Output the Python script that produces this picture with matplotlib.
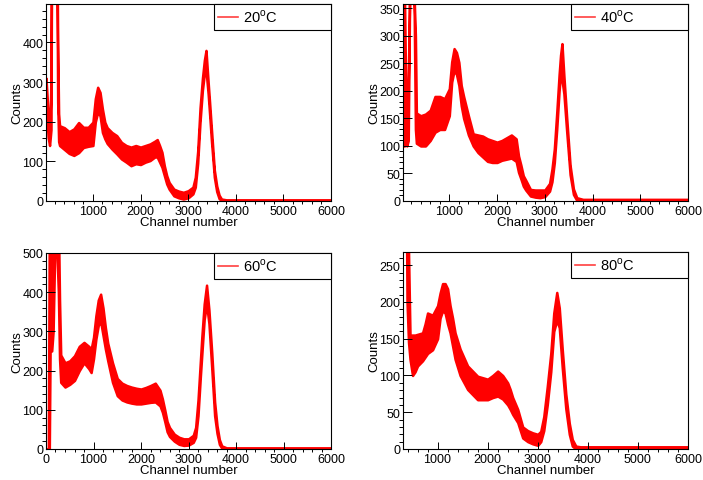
import numpy as np
import matplotlib.pyplot as plt
from matplotlib.ticker import MultipleLocator
from matplotlib.patches import Rectangle

# 字体：Helvetica 风格
plt.rcParams['font.family'] = ['Liberation Sans', 'DejaVu Sans']
plt.rcParams['mathtext.fontset'] = 'custom'
plt.rcParams['mathtext.rm'] = 'Liberation Sans'

# ---- 数据（读自原图，下/上包络） ----
# 20°C
ch20 = [15, 60, 90, 120, 140, 230, 260, 280, 300, 400, 500, 600, 700, 800, 900, 1000,
        1050, 1100, 1150, 1200, 1250, 1300, 1400, 1500, 1600, 1700, 1800, 1900, 2000,
        2100, 2200, 2300, 2350, 2400, 2450, 2500, 2550, 2600, 2700, 2800, 2900, 3000,
        3100, 3150, 3200, 3250, 3300, 3340, 3375, 3420, 3450, 3490, 3550, 3600, 3650,
        3700, 3800, 6000]
lo20 = [250, 160, 140, 180, 900, 900, 250, 150, 140, 130, 120, 115, 122, 135, 138, 140,
        199, 224, 215, 173, 157, 145, 131, 119, 106, 98, 89, 94, 92,
        98, 102, 111, 111, 98, 85, 64, 43, 30, 13, 8, 5, 8,
        18, 35, 95, 200, 280, 320, 330, 270, 220, 150, 60, 24, 6,
        1, 0, 0]
hi20 = [310, 220, 165, 300, 900, 900, 400, 220, 190, 185, 175, 182, 198, 186, 186, 199,
        258, 287, 274, 232, 199, 185, 173, 165, 148, 140, 136, 140, 136,
        140, 144, 151, 155, 140, 123, 89, 64, 47, 30, 25, 22, 26,
        35, 60, 125, 235, 310, 355, 380, 300, 250, 180, 78, 38, 15,
        5, 3, 3]

# 40°C
ch40 = [25, 60, 80, 110, 140, 170, 260, 290, 310, 400, 500, 600, 700, 800, 900, 1000,
        1050, 1100, 1150, 1200, 1250, 1300, 1400, 1500, 1600, 1700, 1800, 1900, 2000,
        2100, 2200, 2300, 2400, 2450, 2500, 2550, 2600, 2700, 2800, 2900, 3000, 3100,
        3150, 3200, 3250, 3300, 3330, 3360, 3400, 3460, 3530, 3600, 3670, 3800, 6000]
lo40 = [100, 100, 105, 100, 110, 380, 380, 130, 105, 100, 100, 110, 125, 130, 130, 155,
        216, 237, 230, 210, 173, 150, 120, 100, 88, 80, 72, 70, 70,
        74, 76, 78, 72, 52, 40, 27, 20, 9, 7, 6, 8, 18,
        35, 70, 130, 200, 230, 220, 195, 125, 48, 12, 1, 0, 0]
hi40 = [200, 380, 250, 140, 220, 380, 380, 300, 160, 155, 158, 165, 190, 190, 186, 204,
        253, 277, 270, 252, 210, 190, 155, 122, 120, 118, 113, 110, 107,
        110, 115, 120, 113, 82, 65, 46, 38, 21, 20, 20, 20, 32,
        58, 95, 160, 230, 265, 286, 228, 150, 65, 22, 6, 3, 3]

# 60°C
ch60 = [5, 50, 70, 90, 120, 150, 200, 260, 285, 310, 400, 500, 600, 700, 800, 900, 950,
        1000, 1050, 1100, 1150, 1200, 1250, 1300, 1400, 1500, 1600, 1700, 1800, 1900,
        2000, 2100, 2200, 2300, 2400, 2450, 2500, 2550, 2600, 2700, 2800, 2900, 3000,
        3100, 3150, 3200, 3250, 3280, 3330, 3380, 3430, 3490, 3550, 3600, 3650, 3700,
        3800, 6000]
lo60 = [0, 0, 0, 300, 250, 300, 600, 400, 230, 170, 158, 165, 175, 200, 220, 205, 195,
        230, 280, 315, 325, 290, 255, 225, 170, 136, 125, 120, 117, 115,
        115, 117, 119, 120, 110, 94, 70, 44, 32, 20, 12, 9, 10,
        17, 30, 85, 185, 240, 330, 370, 320, 205, 85, 40, 12, 2,
        0, 0]
hi60 = [0, 0, 600, 600, 600, 600, 600, 600, 380, 240, 220, 225, 238, 262, 272, 262, 255,
        285, 340, 380, 395, 360, 310, 270, 220, 180, 168, 162, 158, 155,
        153, 157, 162, 168, 150, 128, 100, 70, 55, 38, 30, 26, 26,
        35, 55, 125, 225, 285, 370, 418, 355, 245, 120, 60, 24, 8,
        3, 3]

# 80°C
ch80 = [310, 370, 390, 420, 450, 500, 550, 600, 700, 750, 800, 900, 1000, 1050, 1100,
        1150, 1200, 1250, 1300, 1350, 1450, 1600, 1800, 2000, 2100, 2200, 2300, 2400,
        2450, 2500, 2600, 2700, 2800, 2900, 3000, 3060, 3120, 3190, 3260, 3320, 3380,
        3430, 3490, 3560, 3630, 3690, 3760, 3850, 6000]
lo80 = [400, 400, 200, 145, 122, 100, 105, 113, 120, 125, 130, 135, 150, 178, 188,
        185, 170, 158, 140, 122, 100, 81, 67, 67, 70, 72, 68, 60,
        54, 47, 36, 15, 10, 7, 5, 10, 25, 60, 105, 160, 175,
        165, 110, 55, 20, 4, 0, 0, 0]
hi80 = [400, 400, 400, 270, 155, 155, 155, 156, 158, 170, 185, 182, 195, 212, 225,
        225, 218, 195, 178, 158, 136, 113, 99, 95, 100, 106, 100, 90,
        81, 70, 54, 30, 25, 22, 20, 24, 44, 85, 130, 185, 213,
        192, 135, 75, 35, 13, 4, 3, 3]

W, H = 703, 481
fig = plt.figure(figsize=(W / 100, H / 100), dpi=100)


def panel(rect, ch, lo, hi, label, xmin, ymax, ymaj):
    l, t, r, b = rect
    ax = fig.add_axes([l / W, 1 - b / H, (r - l) / W, (b - t) / H])
    ax.fill_between(ch, lo, hi, color='red', lw=1.8)
    ax.set_xlim(xmin, 6000)
    ax.set_ylim(0, ymax)
    ax.xaxis.set_major_locator(MultipleLocator(1000))
    ax.xaxis.set_minor_locator(MultipleLocator(200))
    ax.yaxis.set_major_locator(MultipleLocator(ymaj))
    ax.yaxis.set_minor_locator(MultipleLocator(ymaj / 5))
    ax.tick_params(direction='in', top=False, right=False, labelsize=9, width=0.7)
    ax.tick_params(axis='y', which='major', length=6.5, pad=2)
    ax.tick_params(axis='y', which='minor', length=3.1, width=0.7)
    ax.tick_params(axis='x', which='major', length=5, pad=3)
    ax.tick_params(axis='x', which='minor', length=2.2, width=0.7)
    for s in ax.spines.values():
        s.set_linewidth(0.8)
    ax.set_xlabel('Channel number', fontsize=9.5, va='top')
    ax.set_ylabel('Counts', fontsize=9.5)
    ax.xaxis.set_label_coords(0.5, -0.075)
    ax.yaxis.set_label_coords(-0.08, 0.5)

    # 图例框（ROOT 风格，贴右上角）
    bw, bh = 117 / (r - l), 26 / (b - t)
    ax.add_patch(Rectangle((1 - bw, 1 - bh), bw, bh, transform=ax.transAxes,
                           facecolor='white', edgecolor='black', lw=0.8,
                           zorder=5, clip_on=False))
    yc = 1 - 12.5 / (b - t)
    x0 = 1 - bw + 4 / (r - l)
    ax.plot([x0, x0 + 20 / (r - l)], [yc, yc], color='#ff4040', lw=1.2,
            transform=ax.transAxes, zorder=6, clip_on=False)
    ax.text(x0 + 25 / (r - l), yc, label, transform=ax.transAxes,
            fontsize=10.5, va='center', ha='left', zorder=6)
    return ax


panel((46, 5, 331, 202), ch20, lo20, hi20, '20$^{\\mathrm{o}}$C', 15, 497, 100)
panel((403, 5, 688, 202), ch40, lo40, hi40, '40$^{\\mathrm{o}}$C', 30, 358, 50)
panel((46, 254, 331, 450), ch60, lo60, hi60, '60$^{\\mathrm{o}}$C', 0, 500, 100)
panel((403, 253, 688, 450), ch80, lo80, hi80, '80$^{\\mathrm{o}}$C', 310, 268, 50)

fig.savefig('out.png', dpi=100)
